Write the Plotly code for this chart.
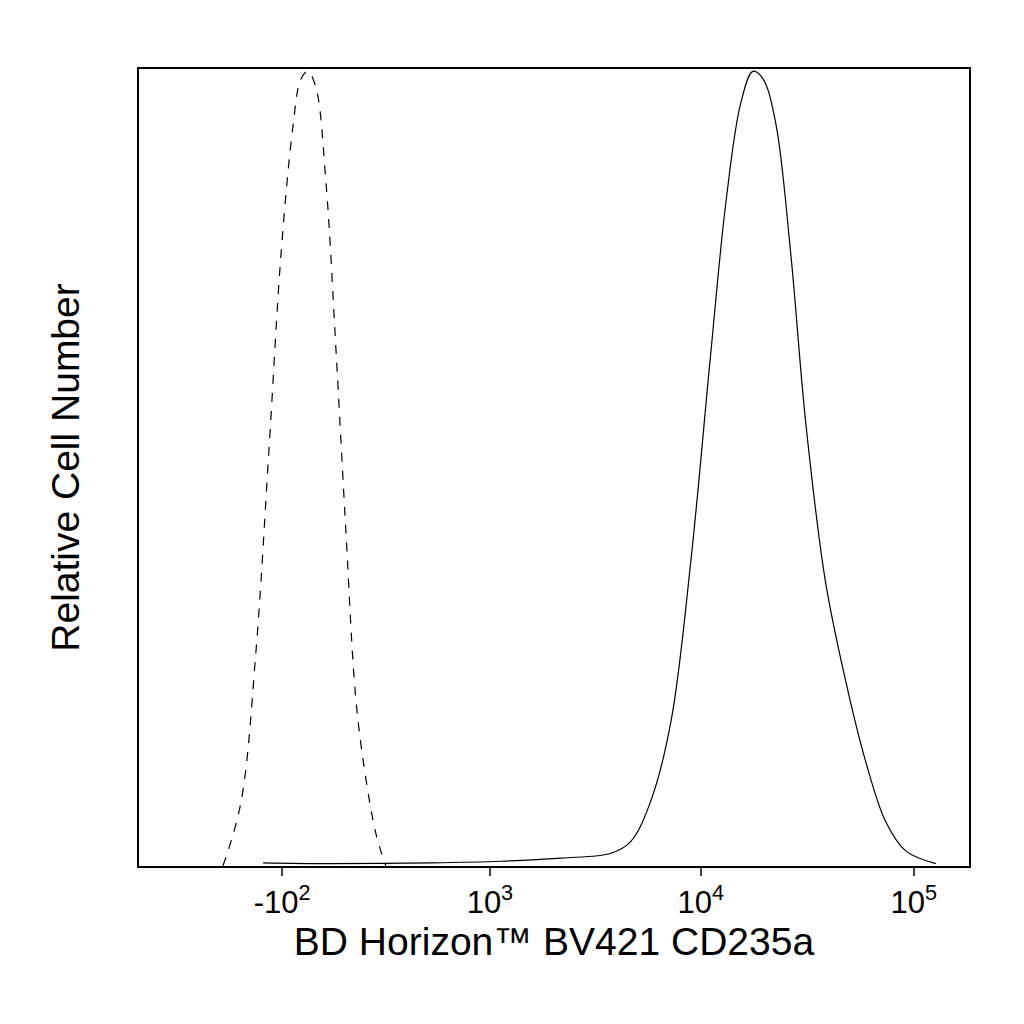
import numpy as np
import plotly.graph_objects as go

# fluorescence intensity (BV421) and relative count (% of peak)
iso_x = [-338, -256, -195, -147, -104, -64, -38, -15, 11, 44, 77, 111, 146, 183, 223, 264]
iso_y = [0, 8, 27, 52, 77, 93, 99, 100, 98, 86, 65, 42, 21, 11, 4, 0]

cd_x = [-168, 60, 498, 1131, 2190, 3780, 4690, 5820, 7240, 8970, 11140, 13100, 15400,
        17550, 19560, 22480, 26420, 31100, 38500, 47900, 59400, 73800, 91700, 127000]
cd_y = [0.4, 0.3, 0.4, 0.6, 1.0, 1.6, 3.1, 8.2, 18.2, 38.3, 64.6, 83.4, 96, 100, 99.1,
        93.5, 77.2, 55.8, 35.8, 23.3, 13.2, 5.6, 1.9, 0.3]

tick_vals = [-100, 1000, 10000, 100000]
tick_text = ["-10<sup>2</sup>", "10<sup>3</sup>", "10<sup>4</sup>", "10<sup>5</sup>"]

C = 300.0  # biexponential-like display transform


def tf(v):
    return np.arcsinh(np.asarray(v, dtype=float) / C)


fig = go.Figure()
fig.add_trace(go.Scatter(x=tf(iso_x), y=iso_y, mode="lines", line_shape="spline",
                         line=dict(color="black", width=1.2, dash="dash")))
fig.add_trace(go.Scatter(x=tf(cd_x), y=cd_y, mode="lines", line_shape="spline",
                         line=dict(color="black", width=1.2)))

fig.update_layout(
    width=1024, height=1024, showlegend=False,
    paper_bgcolor="white", plot_bgcolor="white",
    margin=dict(l=131, r=63, t=61, b=166),
    font=dict(family="Liberation Sans, Arial", color="black"),
)
fig.update_xaxes(range=[-1.876, 7.10], tickvals=tf(tick_vals), ticktext=tick_text,
                 ticks="outside", ticklen=8, tickwidth=2, tickfont=dict(size=31),
                 showgrid=False, zeroline=False, showline=True, linecolor="black",
                 linewidth=2, mirror=True,
                 title=dict(text="BD Horizon™ BV421 CD235a", font=dict(size=39), standoff=2))
fig.update_yaxes(range=[0, 100.3], showticklabels=False, ticks="", showgrid=False,
                 zeroline=False, showline=True, linecolor="black", linewidth=2, mirror=True,
                 title=dict(text="Relative Cell Number", font=dict(size=39), standoff=45))

fig.write_html("out.html")
